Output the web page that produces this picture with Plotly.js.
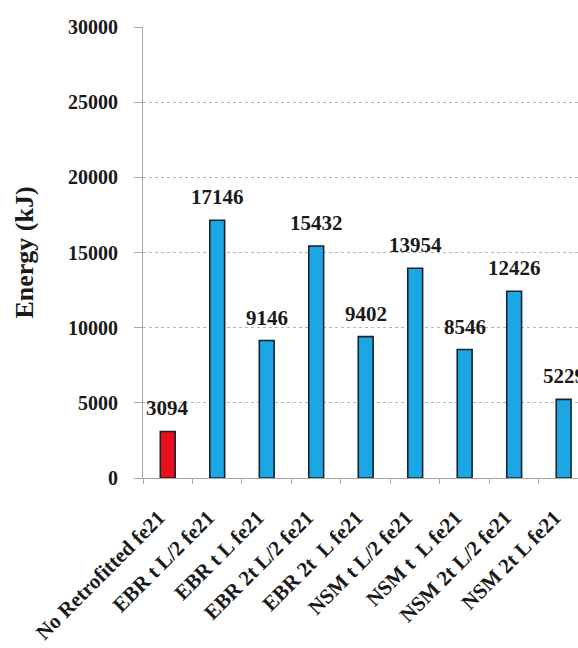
<!DOCTYPE html>
<html>
<head>
<meta charset="utf-8">
<script src="https://cdn.plot.ly/plotly-3.0.1.min.js"></script>
<style>
  html, body { margin: 0; padding: 0; background: #ffffff; }
  #chart { width: 578px; height: 648px; }
</style>
</head>
<body>
<div id="chart"></div>
<script>
// Dissipated energy per retrofit configuration
const categories = [
  "No Retrofitted fe21",
  "EBR t L/2 fe21",
  "EBR t L fe21",
  "EBR 2t L/2 fe21",
  "EBR 2t  L fe21",
  "NSM t L/2 fe21",
  "NSM t  L fe21",
  "NSM 2t L/2 fe21",
  "NSM 2t L fe21"
];
const energy = [3094, 17146, 9146, 15432, 9402, 13954, 8546, 12426, 5229];
const barColors = ["#e8101a", "#1ba6e4", "#1ba6e4", "#1ba6e4", "#1ba6e4",
                   "#1ba6e4", "#1ba6e4", "#1ba6e4", "#1ba6e4"];
const yTicks = [0, 5000, 10000, 15000, 20000, 25000, 30000];

const serif = "Times New Roman, Liberation Serif, DejaVu Serif, serif";
const axisGray = "#a8a8a8";

const trace = {
  type: "bar",
  x: categories,
  y: energy,
  width: 0.3,
  marker: {
    color: barColors,
    line: { color: "#1b2230", width: 1.6 }
  },
  hoverinfo: "x+y"
};

const valueLabels = categories.map((c, i) => ({
  x: c,
  y: energy[i],
  xref: "x",
  yref: "y",
  text: "<b>" + energy[i] + "</b>",
  showarrow: false,
  yanchor: "bottom",
  yshift: 9,
  font: { family: serif, size: 21, color: "#1a1a1a" }
}));

const layout = {
  width: 578,
  height: 648,
  margin: { l: 143, r: 0, t: 27, b: 170 },
  paper_bgcolor: "#ffffff",
  plot_bgcolor: "#ffffff",
  showlegend: false,
  font: { family: serif },
  xaxis: {
    type: "category",
    range: [-0.5, 8.29],
    showline: true,
    linecolor: axisGray,
    linewidth: 1,
    showgrid: false,
    ticks: "outside",
    tickson: "boundaries",
    ticklen: 5,
    tickcolor: axisGray,
    tickangle: -45,
    ticklabelstandoff: 18,
    ticklabelshift: -9,
    tickvals: categories,
    ticktext: categories.map(c => "<b>" + c + "</b>"),
    tickfont: { family: serif, size: 21, color: "#1a1a1a" },
    fixedrange: true
  },
  yaxis: {
    range: [0, 30000],
    tickvals: yTicks,
    ticktext: yTicks.map(v => "<b>" + v + "</b>"),
    showline: true,
    linecolor: axisGray,
    linewidth: 1,
    showgrid: true,
    gridcolor: "#b4b4b4",
    gridwidth: 1,
    griddash: "3px,3px",
    zeroline: false,
    ticks: "outside",
    ticklen: 8,
    tickcolor: axisGray,
    ticklabelstandoff: 12,
    tickfont: { family: serif, size: 20, color: "#1a1a1a" },
    title: {
      text: "<b>Energy (kJ)</b>",
      font: { family: serif, size: 26, color: "#1a1a1a" },
      standoff: 26
    },
    fixedrange: true
  },
  annotations: valueLabels
};

Plotly.newPlot("chart", [trace], layout, { displayModeBar: false, staticPlot: true });
</script>
</body>
</html>
